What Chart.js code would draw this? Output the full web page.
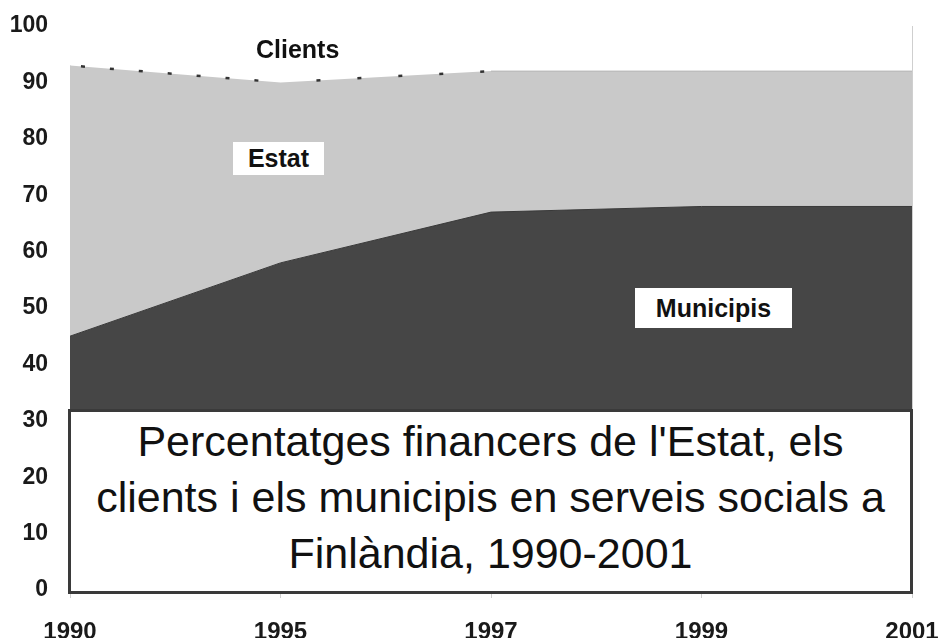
<!DOCTYPE html>
<html>
<head>
<meta charset="utf-8">
<script src="https://cdn.jsdelivr.net/npm/chart.js@4.4.1/dist/chart.umd.min.js"></script>
<style>
  html, body { margin: 0; padding: 0; background: #fff; overflow: hidden; }
  #wrap { position: relative; width: 939px; height: 638px; overflow: hidden; }
  canvas { position: absolute; left: 0; top: 0; }
  .lbl { position: absolute; font-family: "Liberation Sans", Arial, sans-serif; font-weight: bold;
         font-size: 25px; color: #111; background: #fff; text-align: center; white-space: nowrap; }
  #titlebox { position: absolute; left: 68px; top: 409px; width: 839px; height: 178px;
              border: 3px solid #3a3a3a; background: #fff; box-sizing: content-box;
              font-family: "Liberation Sans", Arial, sans-serif; font-size: 43px; line-height: 56px;
              color: #111; text-align: center; padding-top: 1px; }
</style>
</head>
<body>
<div id="wrap">
  <canvas id="c" width="939" height="650"></canvas>
  <div class="lbl" id="lClients" style="left:256px; top:33px; line-height:33px; background:transparent;">Clients</div>
  <div class="lbl" id="lEstat" style="left:233px; top:142px; width:91px; height:33px; line-height:33px;">Estat</div>
  <div class="lbl" id="lMunicipis" style="left:635px; top:288px; width:157px; height:40px; line-height:40px;">Municipis</div>
  <div id="titlebox">Percentatges financers de l'Estat, els<br>clients i els municipis en serveis socials a<br>Finlàndia, 1990-2001</div>
</div>
<script>
// ---- data ----
const years = ['1990', '1995', '1997', '1999', '2001'];
const municipis = [45, 58, 67, 68, 68];
const estat = [48, 32, 25, 24, 24];
const clients = [7, 10, 8, 8, 8];
const yTicks = [0, 10, 20, 30, 40, 50, 60, 70, 80, 90, 100];

// boundary between Estat and Clients (top of the Estat band)
const estatTop = municipis.map((m, i) => m + estat[i]);

const FONT = '"Liberation Sans", Arial, sans-serif';

new Chart(document.getElementById('c'), {
  type: 'line',
  data: {
    labels: years,
    datasets: [
      {
        label: 'Estat/Clients', data: estatTop, stack: 'boundary', fill: false,
        borderColor: '#333', borderWidth: 2.5, pointRadius: 0, tension: 0,
        segment: {
          borderDash: ctx => ctx.p0DataIndex === 0 ? [4, 25] : (ctx.p0DataIndex === 1 ? [4, 37] : []),
          borderDashOffset: ctx => ctx.p0DataIndex === 0 ? 18 : (ctx.p0DataIndex === 1 ? 5 : 0),
          borderColor: ctx => ctx.p0DataIndex < 2 ? '#333' : '#b5b5b5',
          borderWidth: ctx => ctx.p0DataIndex < 2 ? 2.5 : 1
        }
      },
      {
        label: 'Municipis', data: municipis, stack: 'shares', fill: 'origin',
        backgroundColor: '#464646', borderColor: '#3a3a3a', borderWidth: 1,
        pointRadius: 0, tension: 0
      },
      {
        label: 'Estat', data: estat, stack: 'shares', fill: '-1',
        backgroundColor: '#c9c9c9', borderColor: 'rgba(0,0,0,0)', borderWidth: 0,
        pointRadius: 0, tension: 0
      },
      {
        label: 'Clients', data: clients, stack: 'shares', fill: '-1',
        backgroundColor: '#ffffff', borderColor: 'rgba(0,0,0,0)', borderWidth: 0,
        pointRadius: 0, tension: 0
      }
    ]
  },
  options: {
    responsive: false,
    devicePixelRatio: 1,
    animation: false,
    events: [],
    layout: { padding: { top: 26, left: 0, right: 0, bottom: 6 } },
    plugins: { legend: { display: false }, tooltip: { enabled: false } },
    scales: {
      x: {
        type: 'category',
        offset: false,
        z: 1,
        border: { display: false },
        grid: {
          display: true,
          drawOnChartArea: true,
          color: ctx => (ctx.index === years.length - 1 ? '#cfcfcf' : 'rgba(0,0,0,0)'),
          tickColor: '#cfcfcf',
          tickLength: 8,
          lineWidth: 1
        },
        ticks: {
          color: '#1a1a1a', padding: 20, maxRotation: 0, autoSkip: false,
          font: { family: FONT, size: 24, weight: 'bold' }
        },
        afterFit: s => { s.height = 54; s.paddingRight = 27; s.paddingLeft = 0; }
      },
      y: {
        stacked: true,
        min: 0, max: 100,
        z: 1,
        afterBuildTicks: s => { s.ticks = yTicks.map(v => ({ value: v })); },
        border: { display: true, color: '#cfcfcf', width: 1 },
        grid: { display: true, color: 'rgba(0,0,0,0)', drawTicks: false },
        ticks: {
          color: '#1a1a1a', padding: 22,
          font: { family: FONT, size: 23, weight: 'bold' }
        },
        afterFit: s => { s.width = 70; s.paddingTop = 0; s.paddingBottom = 0; }
      }
    }
  }
});
</script>
</body>
</html>
